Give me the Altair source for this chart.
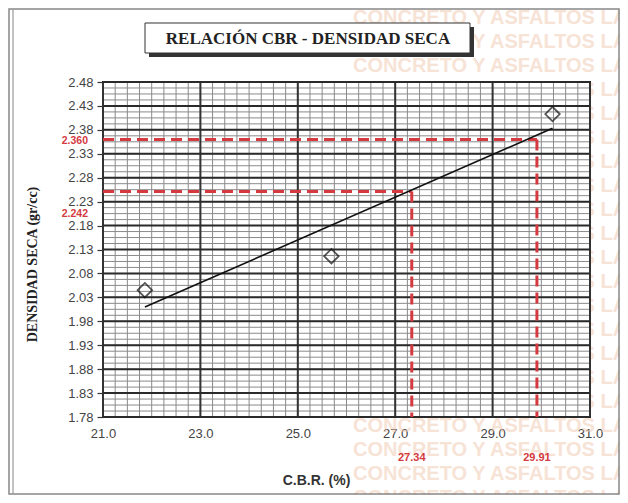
import altair as alt
import pandas as pd
import numpy as np

# ---- data ----
cbr = [21.86, 25.69, 30.23]
dens = [2.045, 2.116, 2.413]

design_cbr = [27.34, 29.91]
design_dens = [2.251, 2.360]
design_dens_labels = ["2.242", "2.360"]
design_cbr_labels = ["27.34", "29.91"]

x_ticks = [21.0, 23.0, 25.0, 27.0, 29.0, 31.0]
y_ticks = [1.78, 1.83, 1.88, 1.93, 1.98, 2.03, 2.08, 2.13, 2.18, 2.23,
           2.28, 2.33, 2.38, 2.43, 2.48]
x_minor_step = 0.25
y_minor_step = 0.0125

title_text = "RELACIÓN CBR - DENSIDAD SECA"
watermark_text = "CONCRETO Y ASFALTOS LABORATORIO"

# ---- tables ----
pts = pd.DataFrame({"cbr": cbr, "dens": dens})
design = pd.DataFrame({"cbr": design_cbr, "dens": design_dens,
                       "x0": x_ticks[0], "y0": y_ticks[0],
                       "ylab": design_dens_labels, "xlab": design_cbr_labels})
minor_x = pd.DataFrame({"v": np.arange(x_ticks[0], x_ticks[-1] + 1e-9, x_minor_step)})
minor_y = pd.DataFrame({"v": np.arange(y_ticks[0], y_ticks[-1] + 1e-9, y_minor_step)})
major_x = pd.DataFrame({"v": x_ticks})
major_y = pd.DataFrame({"v": y_ticks})

W, H = 487, 335

xs = alt.Scale(domain=[x_ticks[0], x_ticks[-1]], nice=False, zero=False)
ys = alt.Scale(domain=[y_ticks[0], y_ticks[-1]], nice=False, zero=False)

xaxis = alt.Axis(values=x_ticks, format=".1f", title="C.B.R. (%)", grid=False,
                 domain=False, ticks=False, labelPadding=10, labelFlush=False,
                 labelOverlap=False, labelFont="Liberation Sans", labelFontSize=13,
                 labelColor="#444", titleFont="Liberation Sans", titleFontWeight="bold",
                 titleFontSize=14, titleColor="#333", titleX=213, titleY=63,
                 titleBaseline="middle", titleAlign="center")
yaxis = alt.Axis(values=y_ticks, format=".2f", title="DENSIDAD SECA (gr/cc)", grid=False,
                 domain=False, tickSize=6, tickColor="#333", tickWidth=1.2,
                 labelPadding=4, labelFlush=False, labelOverlap=False,
                 labelFont="Liberation Sans", labelFontSize=13, labelColor="#444",
                 titleFont="Liberation Serif", titleFontWeight="bold", titleFontSize=14,
                 titleColor="#222", titleX=-71, titleY=182, titleAngle=270,
                 titleBaseline="middle", titleAlign="center")


def X(f):
    return alt.X(f, type="quantitative", scale=xs, axis=xaxis)


def Y(f):
    return alt.Y(f, type="quantitative", scale=ys, axis=yaxis)


layers = []
one = alt.Chart(pts).transform_filter("datum.cbr == %r" % cbr[0])

# faint watermark rows of the scanned sheet (decoration)
for i in range(21):
    layers.append(
        one.mark_text(text=watermark_text, align="left", baseline="middle",
                      font="Liberation Sans", fontWeight="bold", fontSize=20,
                      color="#f0c9ae", opacity=0.5).encode(
            x=alt.value(250), y=alt.value(-64 + 24 * i))
    )

# white plot background hiding the watermark inside the plot
layers.append(one.mark_rect(fill="white").encode(
    x=alt.value(0), x2=alt.value(W), y=alt.value(0), y2=alt.value(H)))

# grid
layers.append(alt.Chart(minor_x).mark_rule(color="#8a8a8a", strokeWidth=1).encode(x=X("v")))
layers.append(alt.Chart(minor_y).mark_rule(color="#8a8a8a", strokeWidth=1).encode(y=Y("v")))
layers.append(alt.Chart(major_x).mark_rule(color="#333", strokeWidth=2).encode(x=X("v")))
layers.append(alt.Chart(major_y).mark_rule(color="#2a2a2a", strokeWidth=2).encode(y=Y("v")))

# red design lines
red = "#d43a3f"
layers.append(alt.Chart(design).mark_rule(color=red, strokeWidth=3, strokeDash=[11, 6]).encode(
    x=X("x0"), x2=alt.X2("cbr"), y=Y("dens")))
layers.append(alt.Chart(design).mark_rule(color=red, strokeWidth=3, strokeDash=[11, 6]).encode(
    x=X("cbr"), y=Y("dens"), y2=alt.Y2("y0")))

# regression line
layers.append(alt.Chart(pts).transform_regression("cbr", "dens").mark_line(
    color="#111", strokeWidth=1.6).encode(x=X("cbr"), y=Y("dens")))

# points
layers.append(alt.Chart(pts).mark_point(shape="diamond", filled=False, size=210,
                                        stroke="#111", strokeWidth=1.8).encode(
    x=X("cbr"), y=Y("dens")))

# red labels
for i, dy in enumerate([22, 2]):
    layers.append(alt.Chart(design.iloc[[i]]).mark_text(
        align="right", baseline="middle", dy=dy, font="Liberation Sans", fontWeight="bold",
        fontSize=10.5, color=red).encode(x=alt.value(-15), y=Y("dens"), text="ylab:N"))
layers.append(alt.Chart(design).mark_text(
    align="center", baseline="middle", font="Liberation Sans", fontWeight="bold",
    fontSize=11, color=red).encode(x=X("cbr"), y=alt.value(H + 41), text="xlab:N"))

# title box with shadow
layers.append(one.mark_rect(fill="#333").encode(
    x=alt.value(46), x2=alt.value(371), y=alt.value(-55), y2=alt.value(-25)))
layers.append(one.mark_rect(fill="white", stroke="#333", strokeWidth=1).encode(
    x=alt.value(42), x2=alt.value(367), y=alt.value(-59), y2=alt.value(-29)))
layers.append(one.mark_text(text=title_text, align="center", baseline="middle",
                            font="Liberation Serif", fontWeight="bold", fontSize=17,
                            color="#222").encode(x=alt.value(205), y=alt.value(-43)))

# outer frame
layers.append(one.mark_rect(fill=None, stroke="#888", strokeWidth=1.5).encode(
    x=alt.value(-94), x2=alt.value(516), y=alt.value(-73), y2=alt.value(412)))
layers.append(one.mark_rule(color="#999", strokeWidth=1.2).encode(
    x=alt.value(-90), y=alt.value(-73), y2=alt.value(412)))

chart = alt.layer(*layers).properties(
    width=W, height=H,
    autosize=alt.AutoSizeParams(type="none"),
    padding={"left": 95, "top": 74, "right": 30, "bottom": 78},
).configure_view(stroke="#222", strokeWidth=2)

chart.save("out.html", embed_options={"renderer": "svg", "actions": False})
